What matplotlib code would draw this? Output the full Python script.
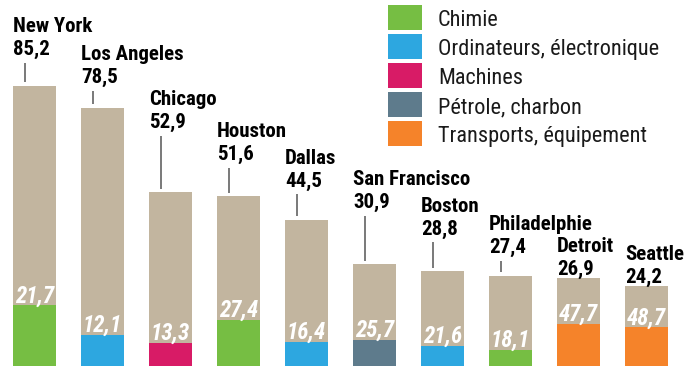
import matplotlib
matplotlib.use("Agg")
import matplotlib.pyplot as plt
from matplotlib.patches import Rectangle

# villes, total et part du premier secteur (%)
villes = ["New York", "Los Angeles", "Chicago", "Houston", "Dallas",
          "San Francisco", "Boston", "Philadelphie", "Detroit", "Seattle"]
totaux = [85.2, 78.5, 52.9, 51.6, 44.5, 30.9, 28.8, 27.4, 26.9, 24.2]
parts = [21.7, 12.1, 13.3, 27.4, 16.4, 25.7, 21.6, 18.1, 47.7, 48.7]
secteur_idx = [0, 1, 2, 0, 1, 3, 1, 0, 4, 4]

secteurs = ["Chimie", "Ordinateurs, électronique", "Machines",
            "Pétrole, charbon", "Transports, équipement"]
couleurs = ["#76BE43", "#2DA7E0", "#D81B66", "#5E7B8C", "#F5832A"]
beige = "#C2B59F"

# hauteur des étiquettes au-dessus de chaque barre
decalages = [9.4, 7.6, 19.5, 11.1, 10.0, 17.2, 11.1, 7.0, 0.8, 1.1]

fam = ["Roboto Condensed", "Barlow Semi Condensed", "DejaVu Sans"]

W, H = 686, 366
fig = plt.figure(figsize=(W / 100, H / 100), dpi=100)
ax = fig.add_axes([0, 0, 1, 1])
ax.axis("off")
ax.set_xlim(-0.507, 9.58)
ax.set_ylim(0, 111.4)

larg = 0.632
for i, (tot, p, s) in enumerate(zip(totaux, parts, secteur_idx)):
    bas = tot * p / 100
    ax.bar(i, tot, width=larg, color=beige, linewidth=0)
    ax.bar(i, bas, width=larg, color=couleurs[s], linewidth=0)
    ax.annotate(f"{p:.1f}".replace(".", ","), (i, bas), xytext=(0, 2),
                textcoords="offset points", ha="center", va="baseline",
                color="white", fontsize=16.5, fontweight="bold",
                fontstyle="italic", family=fam)

    gauche = i - larg / 2
    y_lab = tot + decalages[i]
    ax.text(gauche, y_lab, f"{tot:.1f}".replace(".", ","), ha="left",
            va="baseline", fontsize=15, fontweight="bold", family=fam)
    ax.annotate(villes[i], (gauche, y_lab), xytext=(0, 16.5),
                textcoords="offset points", ha="left", va="baseline",
                fontsize=15, fontweight="bold", family=fam)
    # trait de rappel
    y0, y1 = tot + 1.1, y_lab - 2.3
    if y1 - y0 > 1:
        xl = gauche + 12 / 68
        ax.plot([xl, xl], [y0, y1], color="#555555", lw=1.1,
                solid_capstyle="butt")

# légende
for k, (nom, c) in enumerate(zip(secteurs, couleurs)):
    haut = 5 + 29 * k
    fig.add_artist(Rectangle((388 / W, 1 - (haut + 25) / H), 34 / W, 25 / H,
                             transform=fig.transFigure, color=c, lw=0))
    fig.text(438 / W, 1 - (haut + 21) / H, nom, ha="left", va="baseline",
             fontsize=16, family=fam, color="#1a1a1a")

fig.savefig("out.png", dpi=100)
